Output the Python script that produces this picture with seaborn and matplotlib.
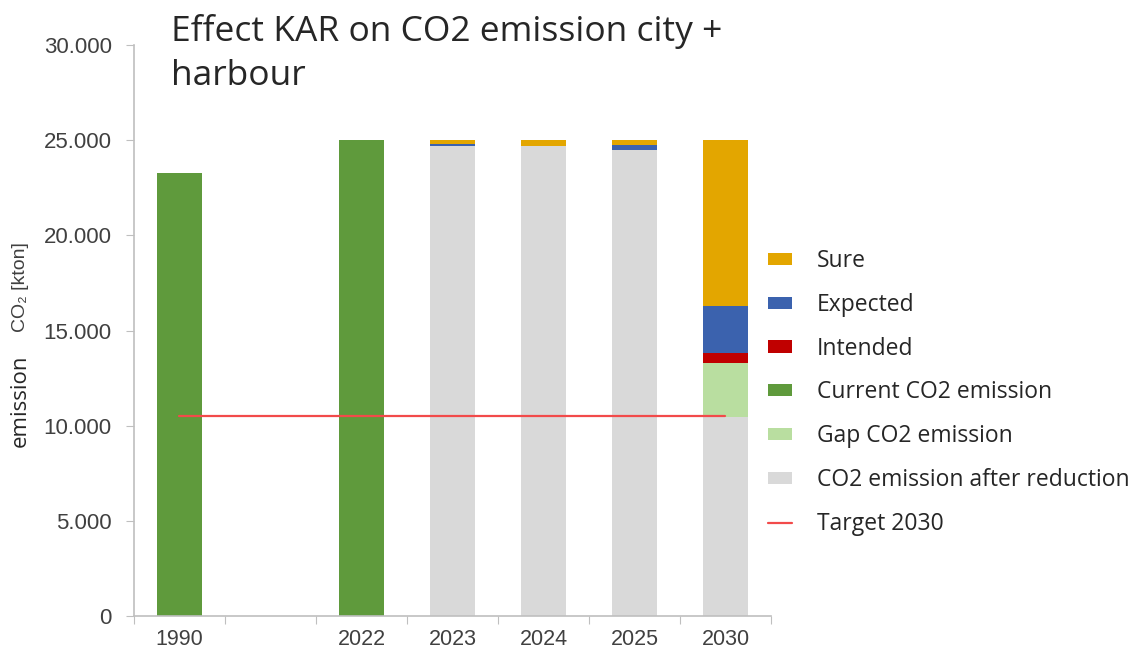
import numpy as np
import pandas as pd
import matplotlib
matplotlib.use('Agg')
import matplotlib.pyplot as plt
import seaborn as sns
from matplotlib.patches import Patch
from matplotlib.lines import Line2D
from matplotlib.ticker import FuncFormatter

sns.set_style('white')

# data (kton CO2)
years = ['1990', ' ', '2022', '2023', '2024', '2025', '2030']
current = [23250, 0, 25000, 0, 0, 0, 0]
after_reduction = [0, 0, 0, 24700, 24700, 24500, 10450]
gap = [0, 0, 0, 0, 0, 0, 2830]
intended = [0, 0, 0, 0, 0, 0, 560]
expected = [0, 0, 0, 100, 0, 250, 2460]
sure = [0, 0, 0, 200, 300, 250, 8700]
target_2030 = 10500

colors = {
    'Sure': '#e3a600',
    'Expected': '#3b62ae',
    'Intended': '#c00000',
    'Current CO2 emission': '#5f9a3c',
    'Gap CO2 emission': '#b9dea0',
    'CO2 emission after reduction': '#d9d9d9',
}
target_color = '#f24a4a'
text_font = ['Open Sans', 'DejaVu Sans']
tick_font = ['Liberation Sans', 'DejaVu Sans']

df = pd.DataFrame({'year': years, 'current': current, 'after': after_reduction,
                   'gap': gap, 'intended': intended, 'expected': expected, 'sure': sure})
# stacked bars: draw cumulative heights from the top layer down
base = df['current'] + df['after']
layers = [
    ('Sure', base + df['gap'] + df['intended'] + df['expected'] + df['sure']),
    ('Expected', base + df['gap'] + df['intended'] + df['expected']),
    ('Intended', base + df['gap'] + df['intended']),
    ('Gap CO2 emission', base + df['gap']),
    ('CO2 emission after reduction', df['after']),
    ('Current CO2 emission', df['current']),
]

fig = plt.figure(figsize=(11.41, 6.55), dpi=100)
ax = fig.add_axes([0.1174, 0.0595, 0.5583, 0.8718])

for name, heights in layers:
    sns.barplot(x=df['year'], y=heights, order=years, color=colors[name],
                width=0.5, saturation=1, ax=ax, errorbar=None, linewidth=0)

ax.plot([0, 6], [target_2030, target_2030], color=target_color, lw=1.6)

ax.set_xlim(-0.5, 6.5)
ax.set_ylim(0, 30000)
ax.set_yticks(np.arange(0, 30001, 5000))
ax.yaxis.set_major_formatter(FuncFormatter(lambda v, p: f'{v:,.0f}'.replace(',', '.')))
ax.set_xticks(np.arange(-0.5, 7, 1))
ax.set_xticklabels([])
ax.set_xticks(np.arange(7), minor=True)
ax.set_xticklabels(['1990', '', '2022', '2023', '2024', '2025', '2030'], minor=True)
ax.set_xlabel('')
ax.set_ylabel('')

for s in ['top', 'right']:
    ax.spines[s].set_visible(False)
for s in ['left', 'bottom']:
    ax.spines[s].set_color('#bfbfbf')
    ax.spines[s].set_linewidth(1.2)
ax.tick_params(axis='y', which='major', length=6, color='#bfbfbf', left=True,
               labelsize=16, labelcolor='#404040', pad=10)
ax.tick_params(axis='x', which='major', length=6, color='#bfbfbf', bottom=True)
ax.tick_params(axis='x', which='minor', length=0, labelsize=15.5, labelcolor='#404040', pad=9)
for lab in ax.get_yticklabels() + ax.get_xticklabels(minor=True):
    lab.set_family(tick_font)

# title, two lines placed by baseline
fig.text(171 / 1141, 1 - 41 / 655, 'Effect KAR on CO2 emission city +',
         fontsize=25.5, family=text_font, va='baseline', ha='left')
fig.text(171 / 1141, 1 - 85 / 655, 'harbour',
         fontsize=25.5, family=text_font, va='baseline', ha='left')

fig.text(20 / 1141, 1 - 401 / 655, 'emission', rotation=90, fontsize=16,
         family=text_font, ha='center', va='center')
fig.text(21 / 1141, 1 - 287 / 655, 'CO₂ [kton]', rotation=90, fontsize=14,
         color='#404040', family=tick_font, ha='center', va='center')

handles = [Patch(color=colors[k], lw=0) for k in ['Sure', 'Expected', 'Intended', 'Current CO2 emission',
                                                  'Gap CO2 emission', 'CO2 emission after reduction']]
handles.append(Line2D([], [], color=target_color, lw=1.6))
labels = ['Sure', 'Expected', 'Intended', 'Current CO2 emission', 'Gap CO2 emission',
          'CO2 emission after reduction', 'Target 2030']
fig.legend(handles, labels, loc='upper left', bbox_to_anchor=(768 / 1141, 1 - 249 / 655),
           frameon=False, prop={'family': text_font, 'size': 16.5},
           borderpad=0, borderaxespad=0,
           handlelength=1.05, handleheight=0.44, handletextpad=1.09, labelspacing=0.865)

fig.savefig('out.png', dpi=100)
